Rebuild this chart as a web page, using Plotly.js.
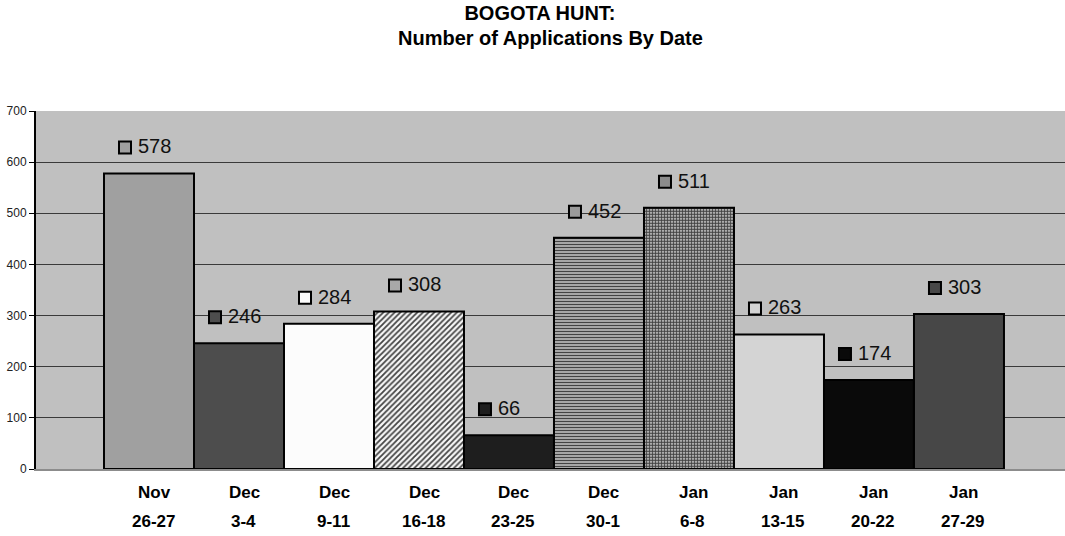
<!DOCTYPE html>
<html>
<head>
<meta charset="utf-8">
<script src="https://cdn.plot.ly/plotly-3.0.1.min.js"></script>
<style>html,body{margin:0;padding:0;background:#fff;}#chart{width:1065px;height:536px;}</style>
</head>
<body>
<div id="chart"></div>
<script>
// ---- data ----
const months = ['Nov', 'Dec', 'Dec', 'Dec', 'Dec', 'Dec', 'Jan', 'Jan', 'Jan', 'Jan'];
const dayRanges = ['26-27', '3-4', '9-11', '16-18', '23-25', '30-1', '6-8', '13-15', '20-22', '27-29'];
const applications = [578, 246, 284, 308, 66, 452, 511, 263, 174, 303];

// ---- styles ----
const barColors   = ['#A0A0A0', '#4D4D4D', '#FCFCFC', '#F8F8F8', '#1E1E1E', '#C8C8C8', '#F0F0F0', '#D4D4D4', '#0A0A0A', '#474747'];
const patShapes   = ['', '', '', '/', '', '-', '.', '', '', ''];
const patFg       = ['#000', '#000', '#000', '#333333', '#000', '#4A4A4A', '#111111', '#000', '#000', '#000'];
const patSize     = [4, 4, 4, 4, 4, 3, 3, 4, 4, 4];
const patSolidity = [0.5, 0.5, 0.5, 0.45, 0.5, 0.5, 0.7, 0.5, 0.5, 0.5];
const keyColors   = ['#A0A0A0', '#4D4D4D', '#FCFCFC', '#A8A8A8', '#1E1E1E', '#9A9A9A', '#8C8C8C', '#D4D4D4', '#0A0A0A', '#474747'];

const xIdx = applications.map((_, i) => i);
const FONT = 'Liberation Sans, Arial, sans-serif';

const bars = {
  type: 'bar',
  x: xIdx,
  y: applications,
  width: 1,
  hoverinfo: 'skip',
  marker: {
    color: barColors,
    line: {color: '#000', width: 2},
    pattern: {
      shape: patShapes,
      fgcolor: patFg,
      size: patSize,
      solidity: patSolidity,
      fgopacity: 1,
      fillmode: 'overlay'
    }
  }
};

const annotations = [];
const shapes = [];
applications.forEach((v, i) => {
  annotations.push({
    xref: 'x', yref: 'y', x: i, y: v, xanchor: 'left', yanchor: 'middle',
    xshift: -13, yshift: 27, showarrow: false, text: String(v),
    font: {family: FONT, size: 20, color: '#111'}
  });
  shapes.push({
    type: 'rect', xref: 'x', yref: 'y',
    xsizemode: 'pixel', ysizemode: 'pixel', xanchor: i, yanchor: v,
    x0: -30, x1: -18, y0: 20, y1: 32,
    fillcolor: keyColors[i], line: {color: '#000', width: 2}
  });
  annotations.push({
    xref: 'x', yref: 'paper', x: i, y: 0, yanchor: 'middle', xanchor: 'center',
    xshift: 5, yshift: -23, showarrow: false, text: '<b>' + months[i] + '</b>',
    font: {family: FONT, size: 17, color: '#000'}
  });
  annotations.push({
    xref: 'x', yref: 'paper', x: i, y: 0, yanchor: 'middle', xanchor: 'center',
    xshift: 4, yshift: -52, showarrow: false, text: '<b>' + dayRanges[i] + '</b>',
    font: {family: FONT, size: 17, color: '#000'}
  });
});

annotations.push({
  xref: 'paper', yref: 'paper', x: 0.5, y: 1, yanchor: 'middle', xanchor: 'center',
  yshift: 111 - 38, xshift: 0, showarrow: false,
  text: '<b>Number of Applications By Date</b>',
  font: {family: FONT, size: 20, color: '#000'}
});

const layout = {
  width: 1065, height: 536,
  margin: {l: 36, r: 0, t: 111, b: 67, pad: 0},
  paper_bgcolor: '#FFFFFF',
  plot_bgcolor: '#C0C0C0',
  showlegend: false,
  bargap: 0,
  title: {
    text: '<b>BOGOTA HUNT:</b>',
    x: 0.507, xanchor: 'center', y: 1 - 13 / 536, yanchor: 'middle',
    font: {family: FONT, size: 20, color: '#000'}
  },
  xaxis: {
    range: [-1.2556, 10.178],
    showticklabels: false, showgrid: false, zeroline: false,
    showline: true, linecolor: '#8C8C8C', linewidth: 2, ticks: '',
    fixedrange: true
  },
  yaxis: {
    range: [0, 700], tickvals: [0, 100, 200, 300, 400, 500, 600, 700],
    showgrid: true, gridcolor: '#3A3A3A', gridwidth: 1,
    zeroline: false, showline: true, linecolor: '#000', linewidth: 2,
    ticks: 'outside', ticklen: 5, tickcolor: '#000', tickwidth: 1,
    tickfont: {family: FONT, size: 12, color: '#222'},
    fixedrange: true
  },
  annotations: annotations,
  shapes: shapes
};

Plotly.newPlot('chart', [bars], layout, {displayModeBar: false, staticPlot: true});
</script>
</body>
</html>
